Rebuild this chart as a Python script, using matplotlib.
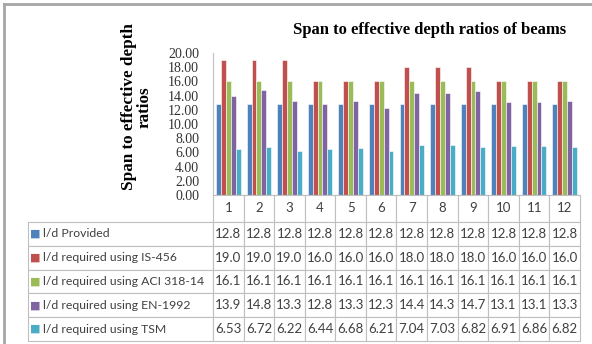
import numpy as np
import matplotlib
matplotlib.use('Agg')
import matplotlib.pyplot as plt
from matplotlib.lines import Line2D

beams = ['1', '2', '3', '4', '5', '6', '7', '8', '9', '10', '11', '12']
series_names = ['l/d Provided',
                'l/d required using IS-456',
                'l/d required using ACI 318-14',
                'l/d required using EN-1992',
                'l/d required using TSM']
provided = [12.8] * 12
is456 = [19.0, 19.0, 19.0, 16.0, 16.0, 16.0, 18.0, 18.0, 18.0, 16.0, 16.0, 16.0]
aci = [16.1] * 12
en1992 = [13.9, 14.8, 13.3, 12.8, 13.3, 12.3, 14.4, 14.3, 14.7, 13.1, 13.1, 13.3]
tsm = [6.53, 6.72, 6.22, 6.44, 6.68, 6.21, 7.04, 7.03, 6.82, 6.91, 6.86, 6.82]
cell_fmt = ['{:.1f}', '{:.1f}', '{:.1f}', '{:.1f}', '{:.2f}']

colors = ['#4F81BD', '#C0504D', '#9BBB59', '#8064A2', '#4BACC6']
all_series = [provided, is456, aci, en1992, tsm]

W, H = 592, 344
fig = plt.figure(figsize=(W / 100, H / 100), dpi=100)

# Outer frame (top and left edges visible)
fig.add_artist(Line2D([4 / W, 1], [1 - 4 / H, 1 - 4 / H], color='#a6a6a6', lw=2))
fig.add_artist(Line2D([4 / W, 4 / W], [0, 1 - 4 / H], color='#a6a6a6', lw=2))

left, right, top, bottom = 213, 580, 53, 195
tab_left, tab_bottom = 28, 341
header_h = 27
ax = fig.add_axes([left / W, 1 - bottom / H, (right - left) / W, (bottom - top) / H])

x = np.arange(len(beams))
bw = 0.16
for k, (vals, c) in enumerate(zip(all_series, colors)):
    ax.bar(x + (k - 2) * bw, vals, width=bw, color=c, edgecolor='white', linewidth=0.4)

ax.set_xlim(-0.5, len(beams) - 0.5)
ax.set_ylim(0, 20)
ax.set_yticks(np.arange(0, 20.1, 2))
ax.set_yticklabels(['{:.2f}'.format(v) for v in np.arange(0, 20.1, 2)],
                   family='Liberation Serif', fontsize=10, color='#333333')
ax.tick_params(axis='y', length=0, pad=10)
ax.set_xticks([])
for s in ['top', 'right']:
    ax.spines[s].set_visible(False)
ax.spines['left'].set_color('#bfbfbf')
ax.spines['bottom'].set_color('#bfbfbf')

ax.text(0.59, 1 + 23 / (bottom - top), 'Span to effective depth ratios of beams',
        transform=ax.transAxes, family='Liberation Serif', fontweight='bold',
        fontsize=12, ha='center', va='center')
fig.text(137 / W, 1 - 107 / H, 'Span to effective depth\nratios', rotation=90,
         family='Liberation Serif', fontweight='bold', fontsize=12.3,
         ha='center', va='center', linespacing=1.0)

# Data table under the chart, in its own axes
ax_t = fig.add_axes([tab_left / W, 1 - tab_bottom / H,
                     (right - tab_left) / W, (tab_bottom - bottom) / H])
ax_t.axis('off')
tw = right - tab_left
th = tab_bottom - bottom
row_h = (th - header_h) / len(series_names)
cell_text = [[f.format(v) for v in vals] for vals, f in zip(all_series, cell_fmt)]
# bbox covers the data grid only; row labels hang to its left
tbl = ax_t.table(cellText=cell_text, rowLabels=series_names, colLabels=beams,
                 colWidths=[(right - left) / len(beams) / tw] * len(beams),
                 rowLoc='left', cellLoc='center',
                 bbox=[(left - tab_left) / tw, 0, (right - left) / tw, 1])
tbl._autoColumns = []
tbl.auto_set_font_size(False)
for (r, c), cell in tbl.get_celld().items():
    cell.set_edgecolor('#bfbfbf')
    cell.set_linewidth(0.8)
    cell.set_height((header_h if r == 0 else row_h) / th)
    cell.get_text().set_fontsize(9.5)
    cell.get_text().set_color('#404040')
    cell.get_text().set_family('Lato')
    if c == -1:
        cell.set_width((left - tab_left) / tw)
        cell.get_text().set_fontsize(8.8)
        cell.PAD = 0.08

# colored legend keys in the row labels
for k, c in enumerate(colors):
    yc = 1 - (header_h + row_h * (k + 0.5)) / th
    ax_t.text(7 / tw, yc, '\u25A0', color=c, fontsize=8, transform=ax_t.transAxes,
              ha='center', va='center', family='DejaVu Sans')

fig.savefig('out.png', dpi=100)
